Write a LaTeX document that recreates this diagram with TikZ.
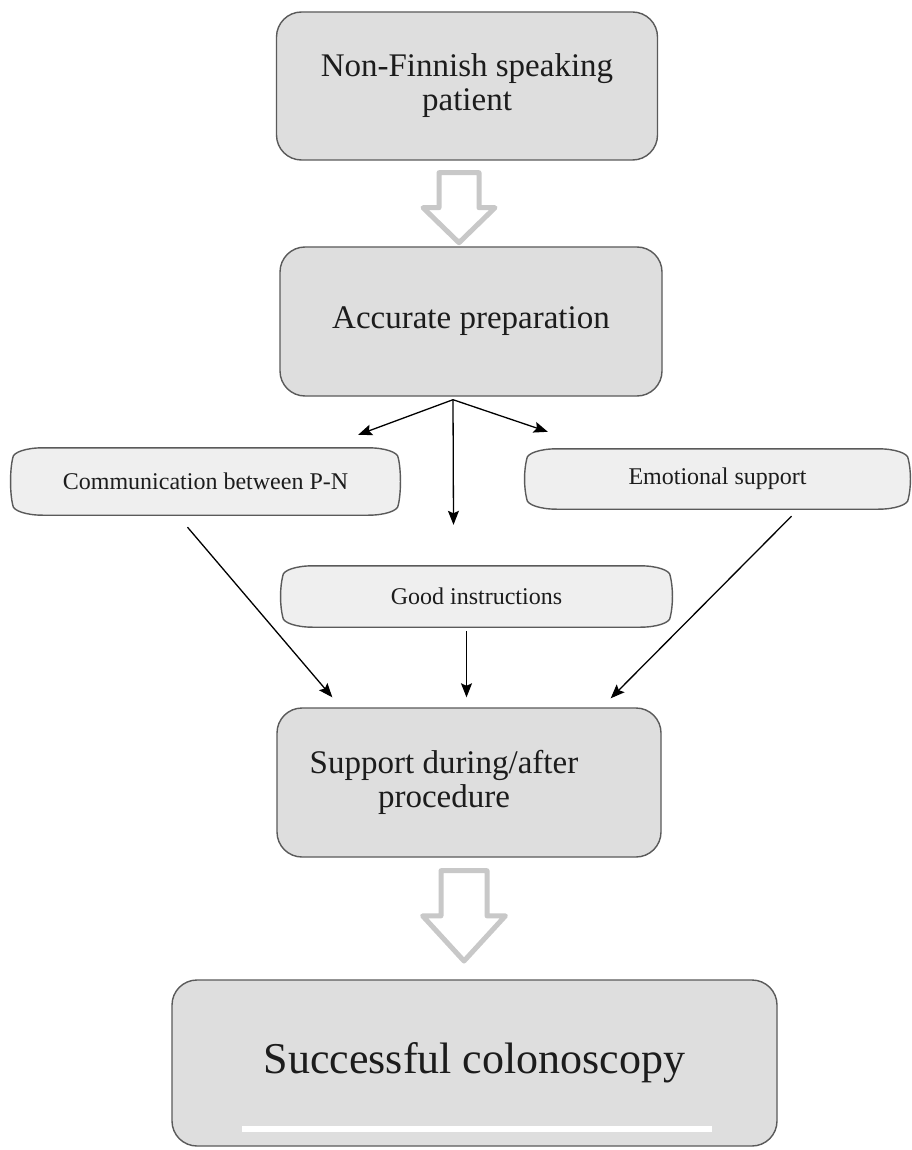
\documentclass[tikz,border=0pt]{standalone}
\usepackage{fontspec}
\setmainfont{Liberation Serif}
\usetikzlibrary{arrows.meta, calc}
\definecolor{boxgray}{HTML}{DEDEDE}
\definecolor{scrollgray}{HTML}{EFEFEF}
\definecolor{edgegray}{HTML}{5A5A5A}
\definecolor{hollowgray}{HTML}{C8C8C8}
\definecolor{inkgray}{HTML}{1C1C1C}
\pgfdeclarelayer{background}
\pgfsetlayers{background,main}

% outline of the flat "scroll" boxes, drawn behind the node text
\newcommand{\scrollshape}[1]{%
  \begin{pgfonlayer}{background}
    \draw[scrolledge] ($(#1.north west)+(30,0)$) -- ($(#1.north east)+(-30,0)$)
      arc[start angle=90, end angle=0, x radius=30pt, y radius=10pt]
      .. controls +(3,-12) and +(3,12) .. ($(#1.south east)+(0,10)$)
      arc[start angle=0, end angle=-90, x radius=30pt, y radius=10pt]
      -- ($(#1.south west)+(30,0)$)
      arc[start angle=270, end angle=180, x radius=30pt, y radius=10pt]
      .. controls +(-3,12) and +(-3,-12) .. ($(#1.north west)+(0,-10)$)
      arc[start angle=180, end angle=90, x radius=30pt, y radius=10pt] -- cycle;
  \end{pgfonlayer}}

\begin{document}
\begin{tikzpicture}[x=1pt, y=1pt, >={Stealth[length=14pt, width=11pt, inset=2.5pt]},
  stage/.style={rectangle, rounded corners=25pt, draw=edgegray, fill=boxgray, line width=1.4pt,
    align=center, text=inkgray, font=\fontsize{33}{34}\selectfont},
  factor/.style={rectangle, text=inkgray, font=\fontsize{24}{26}\selectfont},
  scrolledge/.style={draw=edgegray, fill=scrollgray, line width=1.4pt},
  link/.style={->, line width=1.3pt, black},
  hollow/.style={draw=hollowgray, fill=white, line width=5pt, line join=round},
  hollowarrow/.pic={\draw[hollow] (-20,0) -- (20,0) -- (20,-35) -- (36,-35) -- (0,-70)
    -- (-36,-35) -- (-20,-35) -- cycle;}]
  \begin{pgfonlayer}{background}
    \fill[white] (0,0) rectangle (911,-1150);
  \end{pgfonlayer}
  \useasboundingbox (0,0) rectangle (911,-1150);

  % main stages
  \node[stage, minimum width=381pt, minimum height=148pt] (patient) at (467,-86) {Non-Finnish speaking\\patient};
  \node[stage, minimum width=382pt, minimum height=149pt] (prep) at (471,-321.5) {Accurate preparation};
  \node[stage, minimum width=384pt, minimum height=149pt] (support) at (469,-782.5)
    {Support during/after\hspace*{50pt}\\procedure\hspace*{50pt}};
  \node[stage, minimum width=605pt, minimum height=166pt, font=\fontsize{44}{48}\selectfont] (success) at (474.5,-1063) {Successful colonoscopy};
  \draw[white, line width=6pt] ($(success.south west)+(71,18)$) -- ($(success.south east)+(-66,18)$);

  % factors
  \node[factor, minimum width=385pt, minimum height=67pt] (comm) at (205.5,-481.5) {Communication between P-N};
  \node[factor, minimum width=381pt, minimum height=60pt] (emo) at (717.5,-479) {Emotional support};
  \node[factor, minimum width=387pt, minimum height=61pt] (instr) at (476.5,-596.5) {Good instructions};
  \scrollshape{comm}
  \scrollshape{emo}
  \scrollshape{instr}

  % hollow arrows
  \pic at ($(patient.south)+(-8,-12)$) {hollowarrow};
  \pic[xscale=1.15, yscale=1.29] at ($(support.south)+(-5,-13)$) {hollowarrow};

  % thin arrows
  \coordinate (fork) at ($(prep.south)+(-18,-3)$);
  \coordinate (comm-in) at ($(comm.north east)+(-40,13)$);
  \coordinate (instr-in) at ($(instr.north)+(-23,41)$);
  \coordinate (emo-in) at ($(emo.north west)+(21,17)$);
  \draw[link] (fork) -- (comm-in);
  \draw[link] (fork) -- (instr-in);
  \draw[link] (fork) -- (emo-in);
  \draw[link] ($(comm.south)+(-18,-12)$) -- ($(support.north west)+(56,10)$);
  \draw[link] ($(instr.south)+(-10,-4)$) -- ($(support.north)+(-2.5,10)$);
  \draw[link] ($(emo.south)+(74,-7)$) -- ($(support.north east)+(-51,9)$);
\end{tikzpicture}
\end{document}
